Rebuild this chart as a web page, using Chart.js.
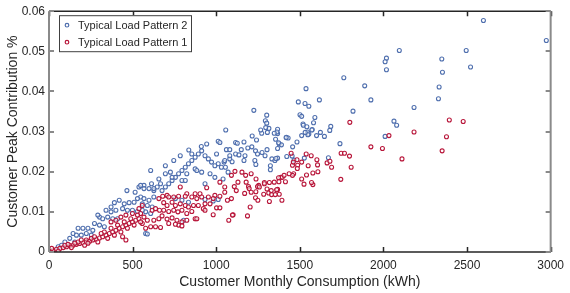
<!DOCTYPE html>
<html>
<head>
<meta charset="utf-8">
<script src="https://cdn.jsdelivr.net/npm/chart.js@4/dist/chart.umd.min.js"></script>
<style>
  html, body { margin: 0; padding: 0; background: #fff; }
  #wrap { width: 570px; height: 293px; }
</style>
</head>
<body>
<div id="wrap"><canvas id="chart" width="570" height="293"></canvas></div>
<script>
// Typical Load Pattern 2 (blue) — monthly consumption (kWh) / peak contribution (%)
const pattern2Consumption = [
  2598, 2974, 2495, 2521, 2349, 2353, 2333, 2329, 2183, 2095, 2018, 2010, 2018, 1888, 1925, 1763, 1818, 2063, 2079, 2010,
  1740, 1537, 1491, 1531, 1554, 1617, 1501, 1511, 1590, 1582, 1519, 1521, 1542, 1574, 1685, 1679, 1546, 1554, 1548, 1600,
  1623, 1647, 1511, 1367, 1367, 1420, 1430, 1457, 1483, 1377, 1390, 1454, 1466, 1527, 1671, 1367, 1367,
  1057, 1215, 1272, 1306, 1315, 1363, 1355, 1572, 1532, 1116, 1126, 1061, 1081, 1116, 1136, 1150, 1189, 1213, 1235, 1247,
  1172, 1274, 1304, 1292, 1333, 1351, 1357, 1324, 1324, 1237, 1081, 1095, 1047, 1055, 1071, 1041, 1081, 1166, 1231, 1422,
  1225, 1302, 1294, 1302, 1296, 1012, 911, 836, 1166, 1241, 1266, 1347, 1373, 1418,
  515, 538, 568, 598, 613, 627, 647, 667, 676, 696, 716, 736, 756, 775, 795, 815, 834, 854, 874, 893,
  913, 933, 953, 972, 992, 1012, 1031, 1051, 746, 785, 854, 943, 1002, 1022, 608, 696, 726, 795, 824, 874,
  913, 963, 992, 548, 568, 627, 466, 884, 736, 696, 657, 815, 933, 302, 371, 578,
  548, 568, 598, 627, 558, 588, 617, 756, 795, 834, 578, 608, 558, 805, 588, 982, 1012, 933,
  391, 420, 450, 479, 509, 529, 341, 371, 400, 440, 469, 499, 529, 292, 321, 351, 381, 410, 272, 302,
  331, 174, 203, 233, 262, 144, 164, 193, 223, 253, 124, 95, 154, 75, 55
];
const pattern2Peak = [
  0.0577, 0.0527, 0.0502, 0.0461, 0.0481, 0.0448, 0.0411, 0.0382, 0.0360, 0.0502, 0.0483, 0.0474, 0.0454, 0.0414, 0.0379, 0.0434, 0.0351, 0.0326, 0.0316, 0.0288,
  0.0270, 0.0407, 0.0374, 0.0370, 0.0363, 0.0379, 0.0342, 0.0338, 0.0335, 0.0322, 0.0319, 0.0316, 0.0312, 0.0305, 0.0313, 0.0303, 0.0299, 0.0294, 0.0292, 0.0290,
  0.0298, 0.0288, 0.0290, 0.0306, 0.0295, 0.0286, 0.0284, 0.0262, 0.0274, 0.0269, 0.0267, 0.0239, 0.0229, 0.0234, 0.0235, 0.0258, 0.0234,
  0.0304, 0.0289, 0.0296, 0.0298, 0.0308, 0.0299, 0.0281, 0.0304, 0.0298, 0.0273, 0.0271, 0.0255, 0.0255, 0.0244, 0.0242, 0.0255, 0.0259, 0.0262, 0.0252, 0.0244,
  0.0240, 0.0248, 0.0255, 0.0240, 0.0232, 0.0228, 0.0233, 0.0215, 0.0205, 0.0218, 0.0232, 0.0225, 0.0224, 0.0211, 0.0199, 0.0182, 0.0240, 0.0228, 0.0228, 0.0238,
  0.0353, 0.0341, 0.0327, 0.0321, 0.0310, 0.0276, 0.0263, 0.0254, 0.0274, 0.0279, 0.0304, 0.0296, 0.0272, 0.0285,
  0.0149, 0.0162, 0.0166, 0.0158, 0.0170, 0.0153, 0.0162, 0.0170, 0.0153, 0.0162, 0.0170, 0.0178, 0.0186, 0.0195, 0.0203, 0.0211, 0.0220, 0.0228, 0.0236, 0.0244,
  0.0252, 0.0240, 0.0232, 0.0224, 0.0215, 0.0220, 0.0211, 0.0228, 0.0228, 0.0240, 0.0244, 0.0269, 0.0244, 0.0273, 0.0203, 0.0215, 0.0199, 0.0178, 0.0195, 0.0207,
  0.0199, 0.0195, 0.0186, 0.0166, 0.0158, 0.0158, 0.0153, 0.0203, 0.0186, 0.0195, 0.0182, 0.0178, 0.0170, 0.0087, 0.0112, 0.0046,
  0.0137, 0.0133, 0.0129, 0.0137, 0.0120, 0.0116, 0.0112, 0.0133, 0.0129, 0.0124, 0.0100, 0.0096, 0.0104, 0.0079, 0.0045, 0.0127, 0.0131, 0.0131,
  0.0123, 0.0129, 0.0120, 0.0123, 0.0124, 0.0133, 0.0104, 0.0100, 0.0104, 0.0108, 0.0104, 0.0104, 0.0101, 0.0092, 0.0083, 0.0087, 0.0083, 0.0083, 0.0071, 0.0067,
  0.0063, 0.0059, 0.0059, 0.0059, 0.0054, 0.0046, 0.0042, 0.0042, 0.0046, 0.0042, 0.0034, 0.0025, 0.0025, 0.0017, 0.0013
];

// Typical Load Pattern 1 (red)
const pattern1Consumption = [
  1799, 2033, 2183, 2394, 2477, 2377, 1925, 1994, 2351, 2111, 1448, 1538, 1568, 1483, 1511, 1487, 1456, 1485, 1602, 1606,
  1608, 1578, 1663, 1680, 1690, 1747, 1767, 1797, 1807, 1745, 1540, 1511, 1525, 1578, 1463, 1456, 1414, 1386, 1395, 1373,
  1375, 1377, 1393, 1367,
  1461, 1550, 1570, 1436, 1406, 1347, 1318, 1288, 1254, 1112, 1091, 1154, 1176, 1130, 1238, 1179,
  1108, 1120, 1193, 1197, 1247, 1237, 1170, 1284, 1304, 1314, 1329, 1331, 1353, 1361, 1318, 1235, 1249, 1203, 1187, 1101,
  1258, 1288, 1209, 1209, 874, 775, 440, 460, 223,
  785, 874, 903, 943, 992, 1022, 1051, 1051, 706, 824,
  657, 680, 716, 746, 775, 815, 854, 884, 913, 953, 982, 1022, 1067, 1091, 686, 706, 736, 756, 785, 815,
  834, 864, 893, 933, 963, 1002, 1022, 923, 617, 637, 661, 686, 716, 746, 771, 795, 824, 854, 884, 933,
  982, 548, 568, 588, 627, 657, 676, 706, 736, 765, 795, 824, 716, 756, 795, 667, 637, 608, 578, 558,
  1075, 1097,
  5, 6, 26, 45, 65, 85, 105, 124, 144, 164, 183, 203, 223, 243, 262, 282, 302, 321, 341, 361,
  381, 400, 420, 440, 460, 479, 499, 519, 538, 16, 55, 95, 134, 174, 213, 253, 292, 331, 351, 371,
  391, 410, 430, 450, 469, 489, 509, 529, 548, 312, 272, 233, 193, 154, 114, 371, 400, 430, 460, 499,
  538, 558
];
const pattern1Peak = [
  0.0323, 0.0290, 0.0299, 0.0329, 0.0325, 0.0287, 0.0262, 0.0258, 0.0252, 0.0232, 0.0246, 0.0244, 0.0240, 0.0230, 0.0224, 0.0216, 0.0216, 0.0208, 0.0230, 0.0217,
  0.0200, 0.0197, 0.0222, 0.0226, 0.0211, 0.0246, 0.0246, 0.0239, 0.0211, 0.0181, 0.0192, 0.0182, 0.0169, 0.0168, 0.0195, 0.0191, 0.0175, 0.0186, 0.0186, 0.0185,
  0.0175, 0.0144, 0.0129, 0.0156,
  0.0224, 0.0215, 0.0173, 0.0195, 0.0191, 0.0174, 0.0173, 0.0173, 0.0166, 0.0201, 0.0191, 0.0199, 0.0191, 0.0174, 0.0182, 0.0174,
  0.0163, 0.0153, 0.0163, 0.0158, 0.0163, 0.0150, 0.0146, 0.0144, 0.0157, 0.0147, 0.0153, 0.0143, 0.0143, 0.0155, 0.0126, 0.0135, 0.0129, 0.0112, 0.0090, 0.0093,
  0.0162, 0.0170, 0.0195, 0.0149, 0.0083, 0.0067, 0.0038, 0.0030, 0.0030,
  0.0162, 0.0145, 0.0145, 0.0160, 0.0141, 0.0174, 0.0162, 0.0149, 0.0141, 0.0145,
  0.0133, 0.0139, 0.0137, 0.0137, 0.0139, 0.0139, 0.0137, 0.0133, 0.0137, 0.0137, 0.0133, 0.0139, 0.0129, 0.0133, 0.0123, 0.0116, 0.0124, 0.0116, 0.0120, 0.0116,
  0.0112, 0.0116, 0.0116, 0.0120, 0.0120, 0.0110, 0.0110, 0.0108, 0.0104, 0.0108, 0.0104, 0.0104, 0.0101, 0.0104, 0.0100, 0.0104, 0.0096, 0.0101, 0.0083, 0.0104,
  0.0093, 0.0096, 0.0087, 0.0079, 0.0079, 0.0083, 0.0090, 0.0082, 0.0085, 0.0079, 0.0075, 0.0079, 0.0071, 0.0069, 0.0065, 0.0061, 0.0063, 0.0063, 0.0059, 0.0071,
  0.0079, 0.0092,
  0.0001, 0.0001, 0.0005, 0.0007, 0.0009, 0.0011, 0.0013, 0.0016, 0.0017, 0.0019, 0.0021, 0.0023, 0.0025, 0.0027, 0.0030, 0.0032, 0.0035, 0.0038, 0.0042, 0.0046,
  0.0050, 0.0054, 0.0059, 0.0063, 0.0067, 0.0071, 0.0075, 0.0079, 0.0083, 0.0009, 0.0002, 0.0017, 0.0011, 0.0025, 0.0017, 0.0034, 0.0025, 0.0050, 0.0034, 0.0059,
  0.0042, 0.0067, 0.0050, 0.0075, 0.0059, 0.0083, 0.0067, 0.0092, 0.0075, 0.0046, 0.0038, 0.0022, 0.0030, 0.0022, 0.0019, 0.0075, 0.0079, 0.0087, 0.0092, 0.0096,
  0.0108, 0.0116
];

const xTicks = [0, 500, 1000, 1500, 2000, 2500, 3000];
const yTicks = [0, 0.01, 0.02, 0.03, 0.04, 0.05, 0.06];

const BLUE = '#4f6fae';
const RED = '#b8163a';
const TEXT = '#262626';
const FONT = '"Liberation Sans", Arial, sans-serif';

const toPoints = (xs, ys) => xs.map((x, i) => ({ x, y: ys[i] }));

// box + inward ticks on all four sides, matlab style
const boxTicks = {
  id: 'boxTicks',
  afterDatasetsDraw(chart) {
    const { ctx, chartArea: a, scales } = chart;
    ctx.save();
    ctx.lineWidth = 1.5;
    ctx.strokeStyle = '#262626';
    scales.x.ticks.forEach((t) => {
      const px = Math.round(scales.x.getPixelForValue(t.value)) + 0.5;
      ctx.beginPath();
      ctx.moveTo(px, a.bottom); ctx.lineTo(px, a.bottom - 5);
      ctx.moveTo(px, a.top); ctx.lineTo(px, a.top + 5);
      ctx.stroke();
    });
    ctx.beginPath();
    ctx.moveTo(a.left, a.top); ctx.lineTo(a.right, a.top);
    ctx.moveTo(a.left, a.bottom); ctx.lineTo(a.right, a.bottom);
    ctx.stroke();
    ctx.strokeStyle = '#8a8a8a';
    ctx.lineWidth = 2;
    scales.y.ticks.forEach((t) => {
      const py = Math.round(scales.y.getPixelForValue(t.value));
      ctx.beginPath();
      ctx.moveTo(a.left, py); ctx.lineTo(a.left + 5, py);
      ctx.moveTo(a.right, py); ctx.lineTo(a.right - 5, py);
      ctx.stroke();
    });
    ctx.beginPath();
    ctx.moveTo(a.left, a.top); ctx.lineTo(a.left, a.bottom);
    ctx.moveTo(a.right, a.top); ctx.lineTo(a.right, a.bottom);
    ctx.stroke();
    ctx.restore();
  }
};

// legend box in the top left corner
const boxLegend = {
  id: 'boxLegend',
  afterDraw(chart) {
    const { ctx, chartArea: a } = chart;
    const x0 = a.left + 10, y0 = a.top + 4, w = 132, h = 36;
    ctx.save();
    ctx.fillStyle = '#fff';
    ctx.fillRect(x0, y0, w, h);
    ctx.strokeStyle = '#404040';
    ctx.lineWidth = 1;
    ctx.strokeRect(x0 + 0.5, y0 + 0.5, w, h);
    ctx.font = `11px ${FONT}`;
    ctx.textBaseline = 'middle';
    chart.data.datasets.forEach((ds, i) => {
      const cy = y0 + 10 + i * 17;
      ctx.beginPath();
      ctx.arc(x0 + 8, cy, 1.8, 0, Math.PI * 2);
      ctx.strokeStyle = ds.borderColor;
      ctx.lineWidth = 1.2;
      ctx.stroke();
      ctx.fillStyle = TEXT;
      ctx.fillText(ds.label, x0 + 19, cy + 0.5);
    });
    ctx.restore();
  }
};

new Chart(document.getElementById('chart'), {
  type: 'scatter',
  data: {
    datasets: [
      {
        label: 'Typical Load Pattern 2',
        data: toPoints(pattern2Consumption, pattern2Peak),
        borderColor: BLUE,
        backgroundColor: 'rgba(255,255,255,0.6)',
        pointRadius: 2,
        borderWidth: 1.1,
        order: 1
      },
      {
        label: 'Typical Load Pattern 1',
        data: toPoints(pattern1Consumption, pattern1Peak),
        borderColor: RED,
        backgroundColor: 'rgba(255,255,255,0.6)',
        pointRadius: 2,
        borderWidth: 1.1,
        order: 0
      }
    ]
  },
  options: {
    responsive: false,
    animation: false,
    devicePixelRatio: 1,
    layout: { padding: { top: 10, right: 14, left: 0, bottom: 0 } },
    plugins: { legend: { display: false }, tooltip: { enabled: false } },
    scales: {
      x: {
        type: 'linear',
        min: 0,
        max: 3000,
        afterBuildTicks: (s) => { s.ticks = xTicks.map((v) => ({ value: v })); },
        afterFit: (s) => { s.height = 41; },
        grid: { display: false, drawTicks: false },
        border: { display: false },
        ticks: {
          color: TEXT,
          font: { family: FONT, size: 12 },
          padding: 6,
          maxRotation: 0,
          callback: (v) => String(v)
        },
        title: {
          display: true,
          text: 'Customer Monthly Consumption (kWh)',
          color: TEXT,
          font: { family: FONT, size: 14 },
          padding: { top: 0, bottom: 2 }
        }
      },
      y: {
        type: 'linear',
        min: 0,
        max: 0.06,
        afterBuildTicks: (s) => { s.ticks = yTicks.map((v) => ({ value: v })); },
        afterFit: (s) => { s.width = 49; },
        grid: { display: false, drawTicks: false },
        border: { display: false },
        ticks: {
          color: TEXT,
          font: { family: FONT, size: 12 },
          padding: 4,
          callback: (v) => (v === 0 ? '0' : v.toFixed(2))
        },
        title: {
          display: true,
          text: 'Customer Peak Contribution %',
          color: TEXT,
          font: { family: FONT, size: 14 },
          padding: { top: 5, bottom: 0 }
        }
      }
    }
  },
  plugins: [boxTicks, boxLegend]
});
</script>
</body>
</html>
